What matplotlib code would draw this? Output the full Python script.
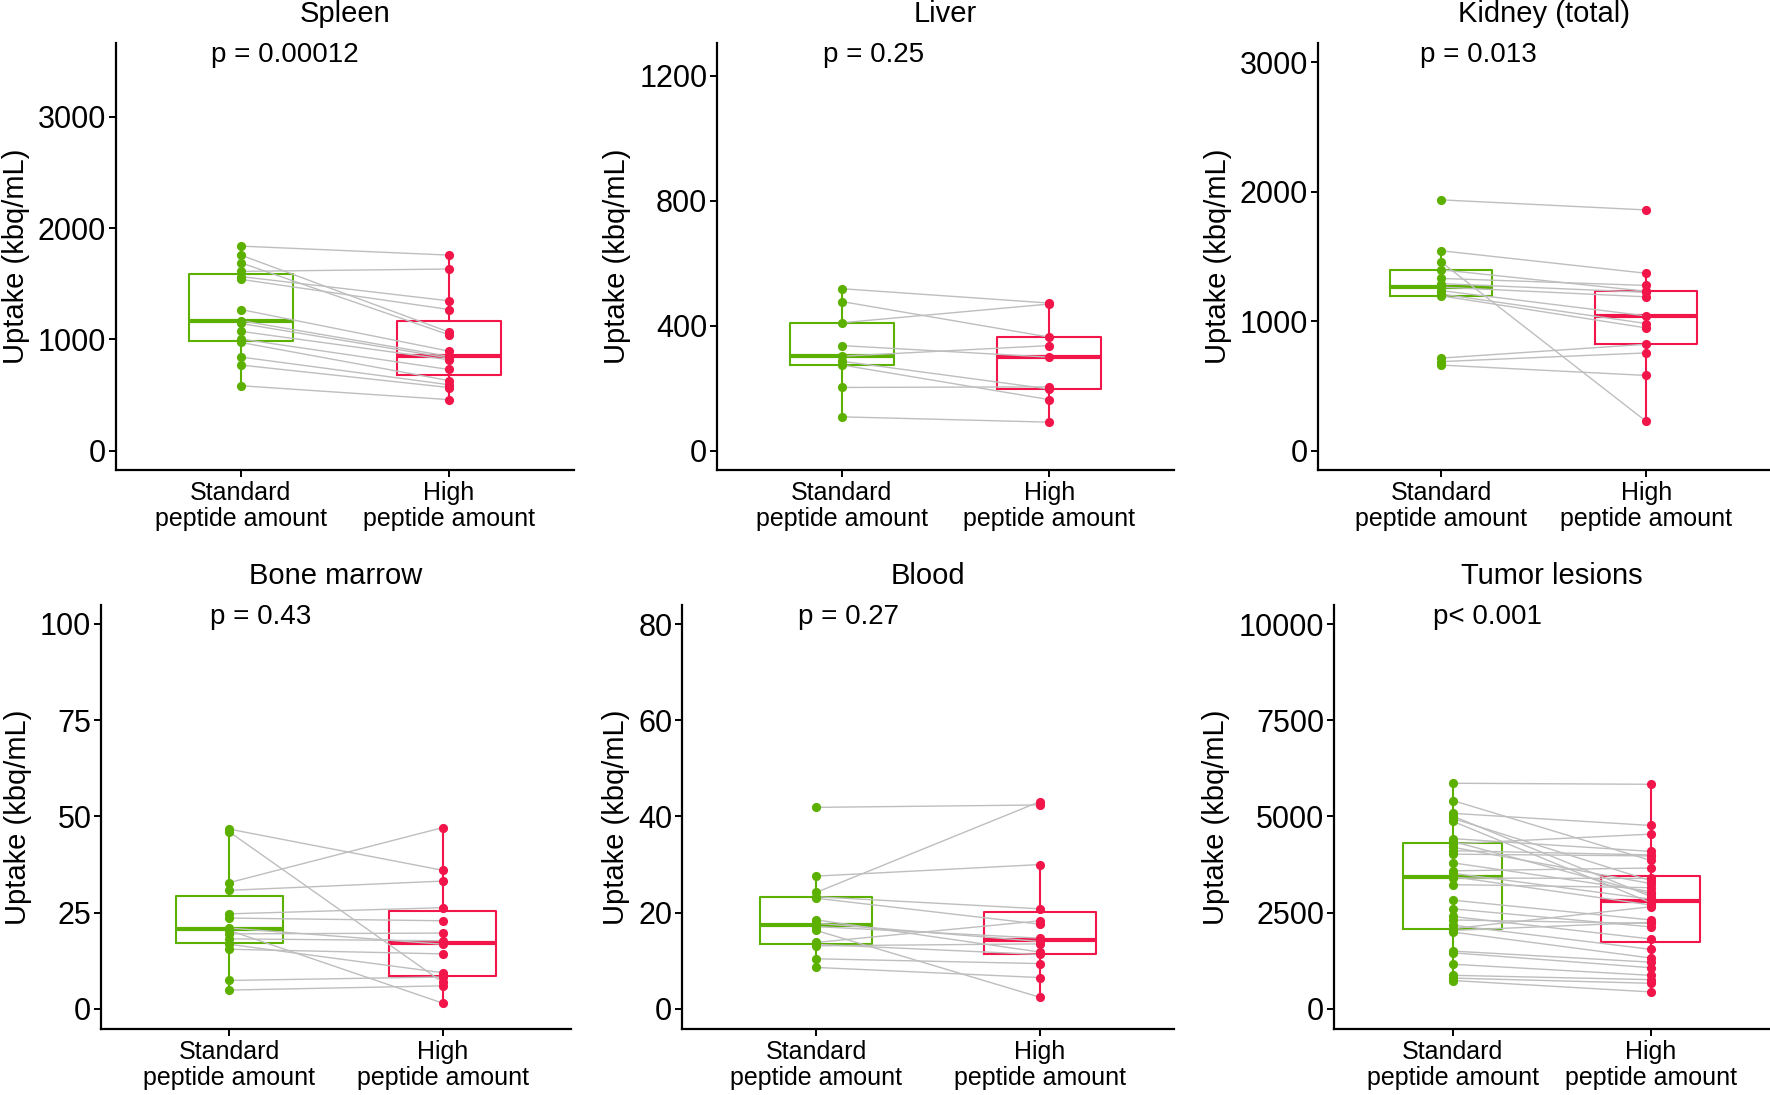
import numpy as np
import matplotlib.pyplot as plt

plt.rcParams['font.family'] = ['Liberation Sans', 'DejaVu Sans']

groups = ['Standard\npeptide amount', 'High\npeptide amount']
green = '#5cb000'
red = '#f2154a'
gray = '#bebebe'

# paired values (standard, high) per organ, kbq/mL
spleen_std = [1838, 1757, 1688, 1611, 1564, 1539, 1268, 1168, 1143, 1072, 1003, 972, 841, 769, 583]
spleen_high = [1757, 1065, 1040, 1632, 1346, 1268, 894, 847, 832, 816, 729, 629, 592, 567, 458]

liver_std = [518, 477, 409, 336, 302, 286, 274, 202, 108]
liver_high = [472, 363, 469, 299, 336, 197, 163, 204, 91]

kidney_std = [1936, 1543, 1457, 1396, 1329, 1289, 1262, 1235, 1209, 1195, 714, 687, 660]
kidney_high = [1858, 1369, 225, 1230, 1275, 1222, 1187, 1040, 981, 947, 821, 754, 580]

marrow_std = [46.7, 46.0, 32.8, 30.8, 24.7, 23.6, 21.0, 20.4, 19.5, 18.2, 16.8, 15.5, 7.4, 4.9]
marrow_high = [36.0, 6.9, 47.1, 33.2, 26.3, 22.9, 16.8, 1.5, 19.7, 17.7, 9.4, 14.3, 8.3, 6.0]

blood_std = [41.9, 27.6, 24.2, 23.3, 23.0, 18.5, 17.8, 17.1, 13.4, 16.3, 13.8, 13.1, 10.4, 8.6]
blood_high = [42.4, 30.0, 43.1, 20.8, 17.6, 11.8, 14.0, 14.7, 11.3, 2.4, 18.3, 13.5, 9.4, 6.5]

tumor_std = [5863, 5414, 5081, 5009, 4950, 4874, 4424, 4350, 4290, 4200, 4110, 4020, 3795, 3588, 3525, 3435,
             3400, 3228, 2824, 2599, 2401, 2311, 2176, 2086, 2040, 1996, 1502, 1457, 1160, 872, 800, 737]
tumor_high = [5836, 3858, 4766, 2920, 3330, 2761, 4092, 2986, 4541, 3255, 4000, 3975, 3050, 3660, 2851, 2700,
              3390, 3150, 2311, 2131, 1817, 2221, 1547, 2653, 2250, 1322, 1214, 1070, 872, 760, 665, 441]

titles = ['Spleen', 'Liver', 'Kidney (total)', 'Bone marrow', 'Blood', 'Tumor lesions']
pvals = ['p = 0.00012', 'p = 0.25', 'p = 0.013', 'p = 0.43', 'p = 0.27', 'p< 0.001']
yticks = [[0, 1000, 2000, 3000], [0, 400, 800, 1200], [0, 1000, 2000, 3000],
          [0, 25, 50, 75, 100], [0, 20, 40, 60, 80], [0, 2500, 5000, 7500, 10000]]
ylims = [(-174, 3663), (-62, 1304), (-150, 3147), (-5.2, 104.9), (-4.2, 84), (-522, 10495)]
data = [(spleen_std, spleen_high), (liver_std, liver_high), (kidney_std, kidney_high),
        (marrow_std, marrow_high), (blood_std, blood_high), (tumor_std, tumor_high)]

# axes rectangles in figure fractions
rects = [[0.0655, 0.5708, 0.2588, 0.3899], [0.4051, 0.5708, 0.2582, 0.3899], [0.7446, 0.5708, 0.2550, 0.3899],
         [0.0571, 0.0603, 0.2655, 0.3872], [0.3853, 0.0603, 0.2780, 0.3872], [0.7537, 0.0603, 0.2460, 0.3872]]
ptext_x = [0.207, 0.232, 0.226, 0.232, 0.236, 0.227]

fig = plt.figure(figsize=(17.7, 10.95), dpi=100)

for i in range(6):
    ax = fig.add_axes(rects[i])
    std, high = data[i]
    bp = ax.boxplot([std, high], positions=[1, 2], widths=0.5, showfliers=False, showcaps=False,
                    whis=1.5, patch_artist=False)
    for k, c in enumerate([green, red]):
        bp['boxes'][k].set(color=c, linewidth=1.5, zorder=1)
        bp['medians'][k].set(color=c, linewidth=3.0, zorder=1)
        for w in bp['whiskers'][2 * k:2 * k + 2]:
            w.set(color=c, linewidth=1.5, zorder=1)
    for s, h in zip(std, high):
        ax.plot([1, 2], [s, h], color=gray, linewidth=1.0, zorder=2)
    ax.plot(np.ones(len(std)), std, 'o', color=green, ms=6.6, mew=0, zorder=3)
    ax.plot(np.full(len(high), 2), high, 'o', color=red, ms=6.6, mew=0, zorder=3)

    ax.set_xlim(0.4, 2.6)
    ax.set_ylim(*ylims[i])
    ax.set_yticks(yticks[i])
    ax.set_yticklabels([str(t) for t in yticks[i]])
    ax.set_xticks([1, 2])
    ax.set_xticklabels(groups, fontsize=18, linespacing=1.1)
    ax.tick_params(axis='y', labelsize=22, length=5, width=1.4, pad=2)
    ax.tick_params(axis='x', length=5, width=1.4, pad=3)
    ax.spines['top'].set_visible(False)
    ax.spines['right'].set_visible(False)
    ax.spines['left'].set_linewidth(1.6)
    ax.spines['bottom'].set_linewidth(1.6)
    ax.set_ylabel('Uptake (kbq/mL)', fontsize=21, labelpad=6)
    ax.set_title(titles[i], fontsize=21, pad=15)
    ax.text(ptext_x[i], 0.955, pvals[i], transform=ax.transAxes, fontsize=20, ha='left', va='baseline')

fig.savefig('out.png', dpi=100)
